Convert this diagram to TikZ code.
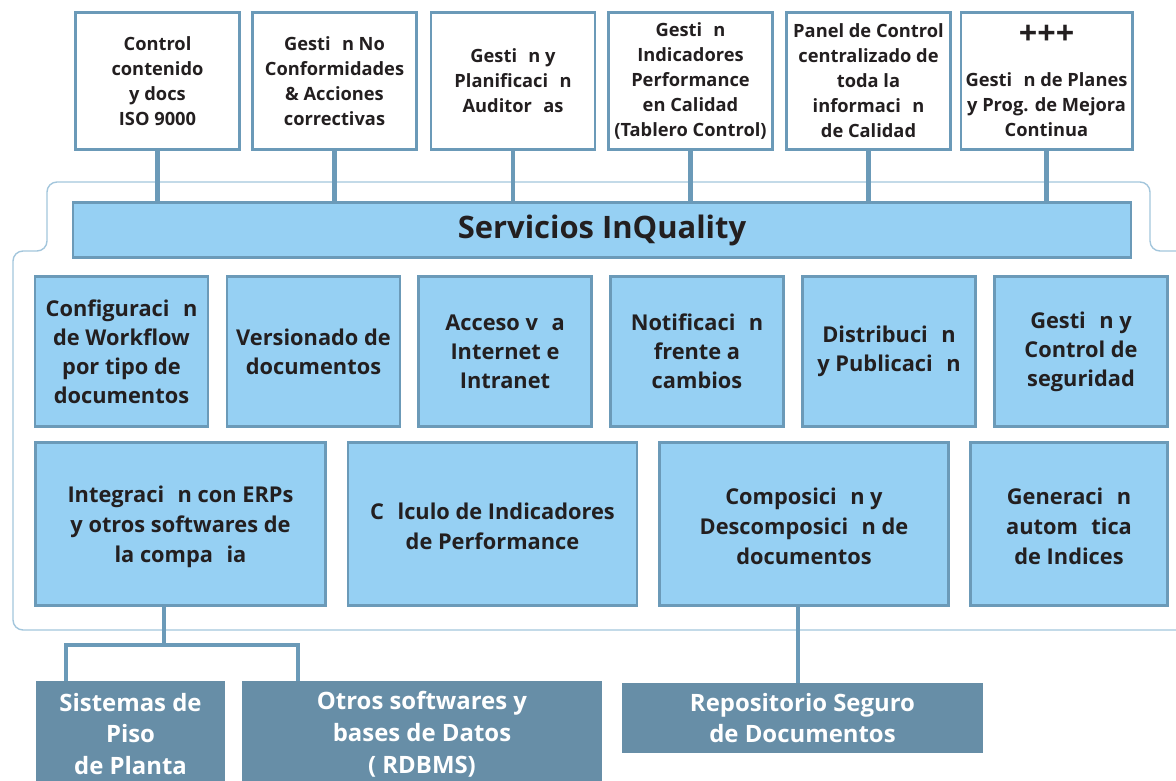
\documentclass[tikz,border=0pt]{standalone}
\usepackage{fontspec}
\setmainfont{Open Sans}
\usetikzlibrary{positioning}

\definecolor{edgeblue}{HTML}{6B9AB8}
\definecolor{fillblue}{HTML}{96D0F3}
\definecolor{darkbox}{HTML}{678EA7}
\definecolor{outlineblue}{HTML}{A3C6DC}
\definecolor{inkgray}{HTML}{231F20}

\newcommand{\gap}{\phantom{ó}}

\begin{document}
\begin{tikzpicture}[
  x=0.025cm, y=-0.025cm,
  every node/.style={align=center, text=inkgray},
  topbox/.style={draw=edgeblue, line width=2pt, fill=white, minimum width=4.1cm, minimum height=3.42cm,
    font=\fontsize{13}{17.8}\selectfont\bfseries},
  svcbox/.style={draw=edgeblue, line width=1.8pt, fill=fillblue, minimum height=3.74cm,
    font=\fontsize{15.5}{20.6}\selectfont\bfseries},
  widebox/.style={svcbox, minimum height=4.08cm, font=\fontsize{15.5}{21.3}\selectfont\bfseries},
  dbbox/.style={fill=darkbox, text=white, font=\fontsize{17}{22.6}\selectfont\bfseries},
  link/.style={draw=edgeblue, line width=3.3pt},
]
\clip (0,0) rectangle (1176,781);

% Upper modules
\node[topbox] (docs) at (157.5,81) {Control\\contenido\\y docs\\ISO 9000};
\node[topbox] (noconf) at (334.5,81) {Gesti\gap n No\\Conformidades\\\& Acciones\\correctivas};
\node[topbox] (audit) at (513,81) {Gesti\gap n y\\Planificaci\gap n\\Auditor\gap as};
\node[topbox] (indic) at (690.5,81) {Gesti\gap n\\Indicadores\\Performance\\en Calidad\\(Tablero Control)};
\node[topbox] (panel) at (868.5,81) {Panel de Control\\centralizado de\\toda la\\informaci\gap n\\de Calidad};
\node[topbox] (mejora) at (1046.5,81) {{\fontsize{23}{23}\selectfont +++}\\[12pt]Gesti\gap n de Planes\\y Prog. de Mejora\\Continua};

% Outline of the services block
\draw[outlineblue, line width=1pt, rounded corners=0.25cm]
  (1190,251) -| (1150,182) -| (47,251) -| (13,630) -- (1190,630);

% Services bar
\node[draw=edgeblue, line width=1.8pt, fill=fillblue, minimum width=26.45cm, minimum height=1.37cm,
  font=\fontsize{22}{26}\selectfont\bfseries] (serv) at (602,230) {Servicios InQuality};

% Connectors upper modules -> bar
\draw[link] (docs.south) -- (docs.south |- serv.north);
\draw[link] (noconf.south) -- (noconf.south |- serv.north);
\draw[link] (audit.south) -- (audit.south |- serv.north);
\draw[link] (indic.south) -- (indic.south |- serv.north);
\draw[link] (panel.south) -- (panel.south |- serv.north);
\draw[link] (mejora.south) -- (mejora.south |- serv.north);

% Services, first row
\node[svcbox, minimum width=4.32cm] (workflow) at (121.5,351.5) {Configuraci\gap n\\de Workflow\\por tipo de\\documentos};
\node[svcbox, minimum width=4.32cm] (version) at (313.5,351.5) {Versionado de\\documentos};
\node[svcbox, minimum width=4.32cm] (acceso) at (505,351.5) {Acceso v\gap a\\Internet e\\Intranet};
\node[svcbox, minimum width=4.32cm] (notif) at (697,351.5) {Notificaci\gap n\\frente a\\cambios};
\node[svcbox, minimum width=4.32cm] (distrib) at (889,351.5) {Distribuci\gap n\\y Publicaci\gap n};
\node[svcbox, minimum width=4.32cm] (segur) at (1081,351.5) {Gesti\gap n y\\Control de\\seguridad};

% Services, second row
\node[widebox, minimum width=7.25cm] (integ) at (180.5,524) {\\[-6pt]Integraci\gap n con ERPs\\y otros softwares de\\la compa\gap ia};
\node[widebox, minimum width=7.22cm] (calculo) at (492.5,524) {\\[-6pt]C\gap lculo de Indicadores\\de Performance};
\node[widebox, minimum width=7.22cm] (compos) at (804,524) {\\[-6pt]Composici\gap n y\\Descomposici\gap n de\\documentos};
\node[widebox, minimum width=4.92cm] (indices) at (1069,524) {\\[-6pt]Generaci\gap n\\autom\gap tica\\de Indices};

% External systems
\node[dbbox, minimum width=4.725cm, minimum height=2.65cm] (piso) at (130.5,734) {Sistemas de\\Piso\\de Planta};
\node[dbbox, minimum width=9cm, minimum height=2.65cm] (otros) at (422,734) {Otros softwares y\\bases de Datos\\( RDBMS)};
\node[dbbox, minimum width=9.025cm, minimum height=1.75cm] (repo) at (802.5,718) {Repositorio Seguro\\de Documentos};

% Connectors to external systems
\coordinate (split) at (164,645);
\draw[link, line width=3pt] (integ.south -| split) -- (split);
\draw[link, line width=3pt] ([xshift=-1.6125cm]piso.north) |- (split) -| ([xshift=-3.1cm]otros.north);
\draw[link, line width=3pt] ([xshift=-0.15cm]compos.south) -- ([xshift=-0.15cm]compos.south |- repo.north);

\end{tikzpicture}
\end{document}
